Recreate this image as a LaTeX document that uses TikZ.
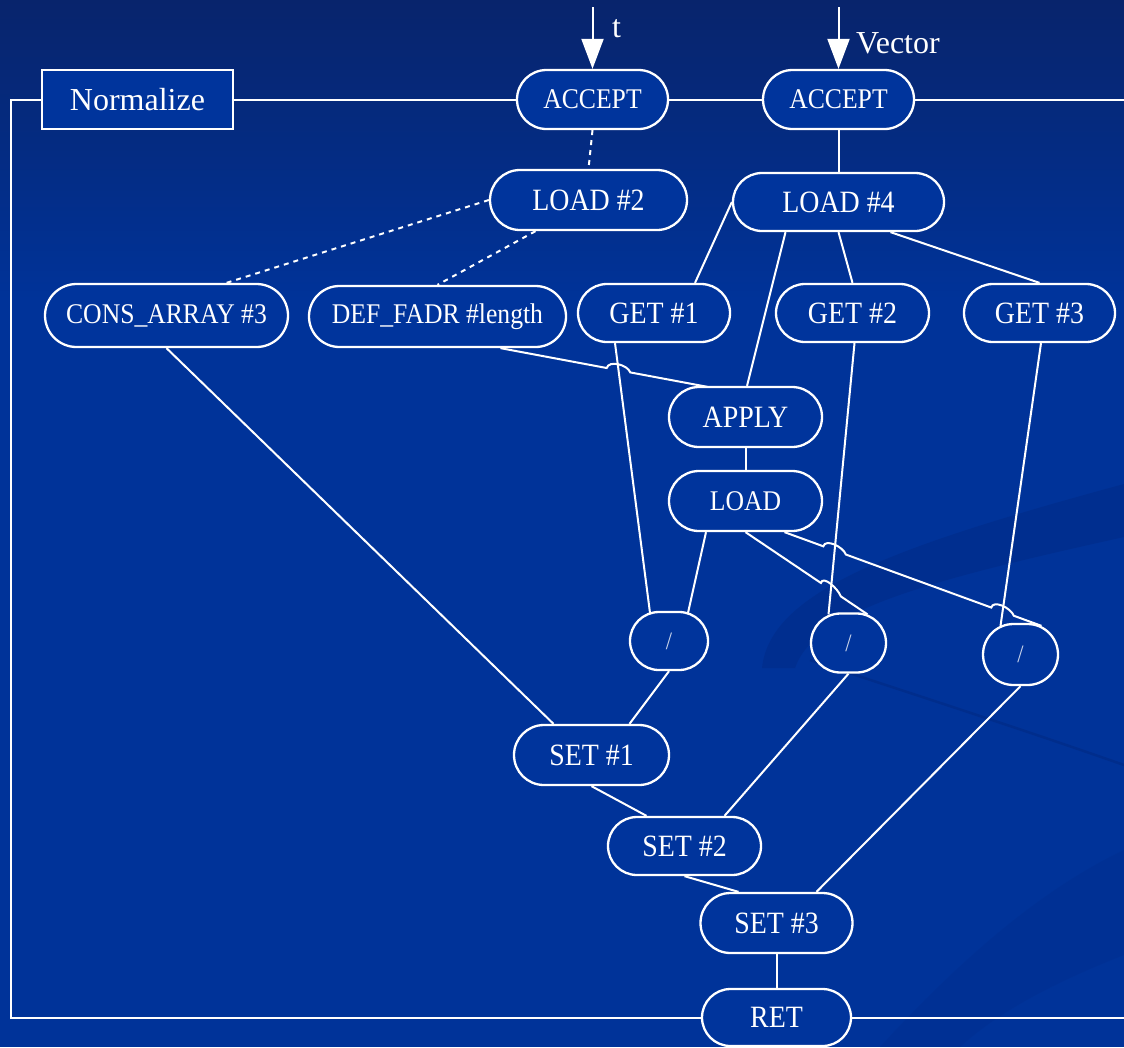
\documentclass[tikz,border=0pt]{standalone}
\usepackage{fontspec}
\setmainfont{Liberation Serif}[FakeStretch=0.9]
\newfontfamily\plainfont{Liberation Serif}
\usetikzlibrary{shapes.misc,arrows.meta,calc,intersections}
\definecolor{bgtop}{RGB}{8,36,108}
\definecolor{bgmain}{RGB}{0,51,153}
\definecolor{nodefill}{RGB}{0,52,156}
\definecolor{swoosh}{RGB}{0,40,128}
\pgfdeclarelayer{back}
\pgfdeclarelayer{edges}
\pgfsetlayers{back,edges,main}
\begin{document}
\begin{tikzpicture}[x=1pt,y=-1pt,
  opbox/.style={rounded rectangle, draw=white, line width=2.3pt, fill=nodefill, text=white, inner sep=0pt, font=\fontsize{31}{34}\selectfont},
  opsmall/.style={opbox, font=\fontsize{28.5}{31}\selectfont},
  divbox/.style={opbox, font=\fontsize{25}{27}\selectfont, text=white!80!nodefill},
  titlebox/.style={rectangle, draw=white, line width=2.3pt, fill=nodefill, text=white, inner sep=0pt, font=\plainfont\fontsize{32}{34}\selectfont},
  edge/.style={draw=white, line width=2pt},
  dotedge/.style={edge, dash pattern=on 5pt off 5pt},
  lbl/.style={text=white, font=\plainfont\fontsize{32}{34}\selectfont, inner sep=0pt},
  inarrow/.style={edge, -{Triangle[width=22pt,length=30pt]}},
]
\useasboundingbox (0,0) rectangle (1124,1047);
\begin{pgfonlayer}{back}
\fill[bgmain] (0,0) rectangle (1124,1047);
\shade[top color=bgtop, bottom color=bgmain] (0,0) rectangle (1124,300);
% faint background swooshes
\fill[swoosh, opacity=0.4] (762,668) .. controls (770,590) and (900,545) .. (1124,484) -- (1124,537) .. controls (930,580) and (815,610) .. (795,668) -- cycle;
\draw[swoosh, line width=2.5pt, opacity=0.5] (810,660) .. controls (900,690) and (1010,725) .. (1124,765);
\fill[swoosh, opacity=0.2] (880,1047) .. controls (960,960) and (1040,890) .. (1124,850) -- (1124,955) .. controls (1060,980) and (1000,1010) .. (960,1047) -- cycle;
\end{pgfonlayer}

% nodes
\node[titlebox, minimum width=191, minimum height=59] (norm) at (137.5,99.5) {Normalize};
\node[opsmall, minimum width=151, minimum height=59] (acct) at (592.5,99.5) {ACCEPT};
\node[opsmall, minimum width=151, minimum height=59] (accv) at (838.5,99.5) {ACCEPT};
\node[opbox, minimum width=197, minimum height=60] (load2) at (588.5,200) {LOAD \#2};
\node[opbox, minimum width=211, minimum height=58] (load4) at (838.5,202) {LOAD \#4};
\node[opsmall, minimum width=243, minimum height=63] (cons) at (166.5,315.5) {CONS\_ARRAY \#3};
\node[opsmall, minimum width=257, minimum height=61] (def) at (437.5,316.5) {DEF\_FADR \#length};
\node[opbox, minimum width=152, minimum height=58] (get1) at (654,313) {GET \#1};
\node[opbox, minimum width=153, minimum height=58] (get2) at (852.5,313) {GET \#2};
\node[opbox, minimum width=151, minimum height=58] (get3) at (1039.5,313) {GET \#3};
\node[opbox, minimum width=153, minimum height=60] (apply) at (745.5,417) {APPLY};
\node[opsmall, minimum width=153, minimum height=60] (load) at (745.5,501) {LOAD};
\node[divbox, minimum width=78, minimum height=58] (div1) at (669,641) {/};
\node[divbox, minimum width=75, minimum height=59] (div2) at (848.5,643) {/};
\node[divbox, minimum width=75, minimum height=61] (div3) at (1020.5,654.5) {/};
\node[opbox, minimum width=155, minimum height=60] (set1) at (591.5,755) {SET \#1};
\node[opbox, minimum width=153, minimum height=58] (set2) at (684.5,846) {SET \#2};
\node[opbox, minimum width=152, minimum height=60] (set3) at (776.5,923) {SET \#3};
\node[opbox, minimum width=149, minimum height=57] (ret) at (776.5,1017.5) {RET};
\node[lbl, anchor=west] (tlbl) at (612,29) {t};
\node[lbl, anchor=west] (vlbl) at (856,43) {Vector};

% free ends
\coordinate (tin) at (592.5,7);
\coordinate (vin) at (838.5,7);
\coordinate (ftl) at (11,99.5);
\coordinate (fbl) at (11,1017.5);
\coordinate (ftr) at (1126,99.5);
\coordinate (fbr) at (1126,1017.5);

% edge end points
\coordinate (a9) at ([xshift=63]def.south);
\coordinate (b9) at ([xshift=-38,yshift=-1]apply.north);
\coordinate (a11) at ([xshift=-39]get1.south);
\coordinate (b11) at ([xshift=-19,yshift=-2]div1.north);
\coordinate (a12) at ([xshift=-39.5]load.south);
\coordinate (b12) at ([xshift=19,yshift=-2]div1.north);
\coordinate (a13) at (load.south);
\coordinate (b13) at ([xshift=19,yshift=-2]div2.north);
\coordinate (a14) at ([xshift=39]load.south);
\coordinate (b14) at ([xshift=21,yshift=-3]div3.north);
\coordinate (a15) at ([xshift=2]get2.south);
\coordinate (b15) at ([xshift=-20,yshift=-2]div2.north);
\coordinate (a16) at ([xshift=1.5]get3.south);
\coordinate (b16) at ([xshift=-20,yshift=-3]div3.north);

\begin{pgfonlayer}{edges}
\draw[inarrow] (tin) -- (acct.north);
\draw[inarrow] (vin) -- (accv.north);
\draw[edge] (norm.west) -- (ftl) -- (fbl) -- (ret.west);
\draw[edge] (norm.east) -- (acct.west);
\draw[edge] (acct.east) -- (accv.west);
\draw[edge] (accv.east) -- (ftr);
\draw[edge] (ret.east) -- (fbr);

\draw[dotedge] (acct.south) -- (load2.north);
\draw[dotedge] (load2.west) -- ([xshift=60]cons.north);
\draw[dotedge] ([xshift=-53]load2.south) -- (def.north);

\draw[edge] (accv.south) -- (load4.north);
\draw[edge] (load4.west) -- ([xshift=41]get1.north);
\draw[edge] ([xshift=-53]load4.south) -- ([xshift=1.5]apply.north);
\draw[edge] (load4.south) -- (get2.north);
\draw[edge] ([xshift=52]load4.south) -- (get3.north);
\draw[edge] (apply.south) -- (load.north);

\draw[edge] (a11) -- (b11);
\draw[edge] (a12) -- (b12);
\draw[edge] (a15) -- (b15);
\draw[edge] (a16) -- (b16);

\path[name path=pg1] (a11) -- (b11);
\path[name path=pg2] (a15) -- (b15);
\path[name path=pg3] (a16) -- (b16);
\path[name path=p9] (a9) -- (b9);
\path[name path=p13] (a13) -- (b13);
\path[name path=p14] (a14) -- (b14);
\path[name intersections={of=p9 and pg1, by=h9}];
\path[name intersections={of=p13 and pg2, by=h13}];
\path[name intersections={of=p14 and pg2, by=h14}];
\path[name intersections={of=p14 and pg3, by=k14}];

\draw[edge] (a9) -- ($(h9)!12pt!(a9)$) .. controls +(2,-8) and +(-3,-8) .. ($(h9)!12pt!(b9)$) -- (b9);
\draw[edge] (a13) -- ($(h13)!12pt!(a13)$) .. controls +(2,-8) and +(-3,-8) .. ($(h13)!12pt!(b13)$) -- (b13);
\draw[edge] (a14) -- ($(h14)!12pt!(a14)$) .. controls +(2,-8) and +(-3,-8) .. ($(h14)!12pt!(b14)$)
  -- ($(k14)!12pt!(a14)$) .. controls +(2,-8) and +(-3,-8) .. ($(k14)!12pt!(b14)$) -- (b14);

\draw[edge] (cons.south) -- ([xshift=-38]set1.north);
\draw[edge] (div1.south) -- ([xshift=38]set1.north);
\draw[edge] (set1.south) -- ([xshift=-38]set2.north);
\draw[edge] (div2.south) -- ([xshift=40]set2.north);
\draw[edge] (set2.south) -- ([xshift=-38]set3.north);
\draw[edge] (div3.south) -- ([xshift=40]set3.north);
\draw[edge] (set3.south) -- (ret.north);
\end{pgfonlayer}
\end{tikzpicture}
\end{document}
